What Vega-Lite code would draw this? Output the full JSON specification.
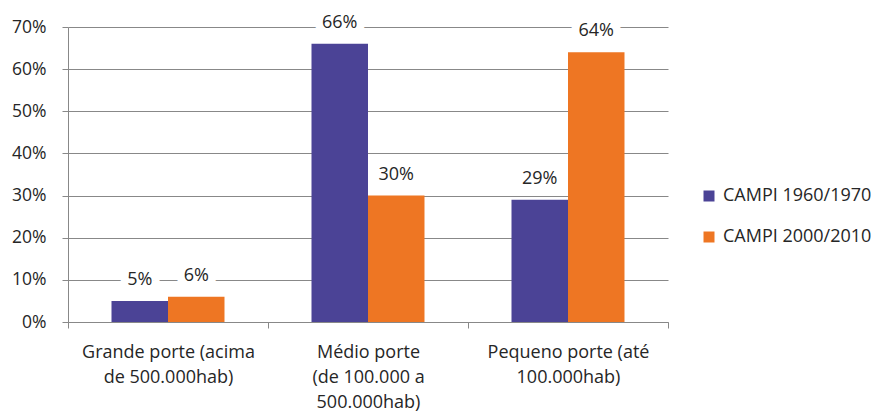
{
  "$schema": "https://vega.github.io/schema/vega-lite/v6.json",
  "width": 600,
  "height": 295,
  "autosize": "none",
  "padding": {"left": 68, "top": 27, "right": 206, "bottom": 91},
  "background": "white",
  "config": {
    "font": "Open Sans",
    "view": {"stroke": null}
  },
  "data": {
    "values": [
      {"porte": "Grande porte (acima|de 500.000hab)", "periodo": "CAMPI 1960/1970", "valor": 5},
      {"porte": "Grande porte (acima|de 500.000hab)", "periodo": "CAMPI 2000/2010", "valor": 6},
      {"porte": "Médio porte|(de 100.000 a|500.000hab)", "periodo": "CAMPI 1960/1970", "valor": 66},
      {"porte": "Médio porte|(de 100.000 a|500.000hab)", "periodo": "CAMPI 2000/2010", "valor": 30},
      {"porte": "Pequeno porte (até|100.000hab)", "periodo": "CAMPI 1960/1970", "valor": 29},
      {"porte": "Pequeno porte (até|100.000hab)", "periodo": "CAMPI 2000/2010", "valor": 64}
    ]
  },
  "encoding": {
    "x": {
      "field": "porte",
      "type": "nominal",
      "sort": null,
      "scale": {"paddingInner": 0, "paddingOuter": 0},
      "axis": {
        "title": null,
        "labelAngle": 0,
        "labelExpr": "datum.value ? split(datum.value, '|') : ''",
        "labelFont": "Open Sans",
        "labelFontSize": 18,
        "labelColor": "#262626",
        "labelLineHeight": 25,
        "labelPadding": 15,
        "labelBaseline": "top",
        "tickBand": "extent",
        "tickColor": "#888888",
        "tickSize": 6,
        "domainColor": "#888888",
        "grid": false
      }
    },
    "xOffset": {
      "field": "periodo",
      "type": "nominal",
      "scale": {"paddingInner": 0, "paddingOuter": 0.77}
    },
    "y": {
      "field": "valor",
      "type": "quantitative",
      "scale": {"domain": [0, 70]},
      "axis": {
        "title": null,
        "values": [0, 10, 20, 30, 40, 50, 60, 70],
        "labelExpr": "datum.value + '%'",
        "labelFont": "Open Sans",
        "labelFontSize": 17.5,
        "labelColor": "#262626",
        "labelPadding": 16,
        "tickColor": "#888888",
        "tickSize": 6,
        "domainColor": "#888888",
        "gridColor": "#888888",
        "gridWidth": 1
      }
    }
  },
  "layer": [
    {
      "mark": {"type": "text", "baseline": "middle", "dy": -21, "fontSize": 18, "stroke": "white", "strokeWidth": 16, "strokeJoin": "round", "fill": "white", "text": {"expr": "datum.valor + '%'"}},
      "encoding": {"detail": {"field": "valor", "type": "quantitative"}}
    },
    {
      "mark": {"type": "bar"},
      "encoding": {
        "color": {
          "field": "periodo",
          "type": "nominal",
          "scale": {"range": ["#4B4396", "#EE7623"]},
          "legend": {
            "title": null,
            "orient": "none",
            "legendX": 632,
            "legendY": 160,
            "symbolType": "square",
            "symbolSize": 121,
            "symbolStrokeWidth": 0,
            "labelFont": "Open Sans",
            "labelFontSize": 18,
            "labelColor": "#262626",
            "labelOffset": 5,
            "rowPadding": 23
          }
        }
      }
    },
    {
      "mark": {"type": "text", "baseline": "middle", "dy": -21, "fontSize": 18, "color": "#262626", "text": {"expr": "datum.valor + '%'"}},
      "encoding": {"detail": {"field": "valor", "type": "quantitative"}}
    }
  ]
}
